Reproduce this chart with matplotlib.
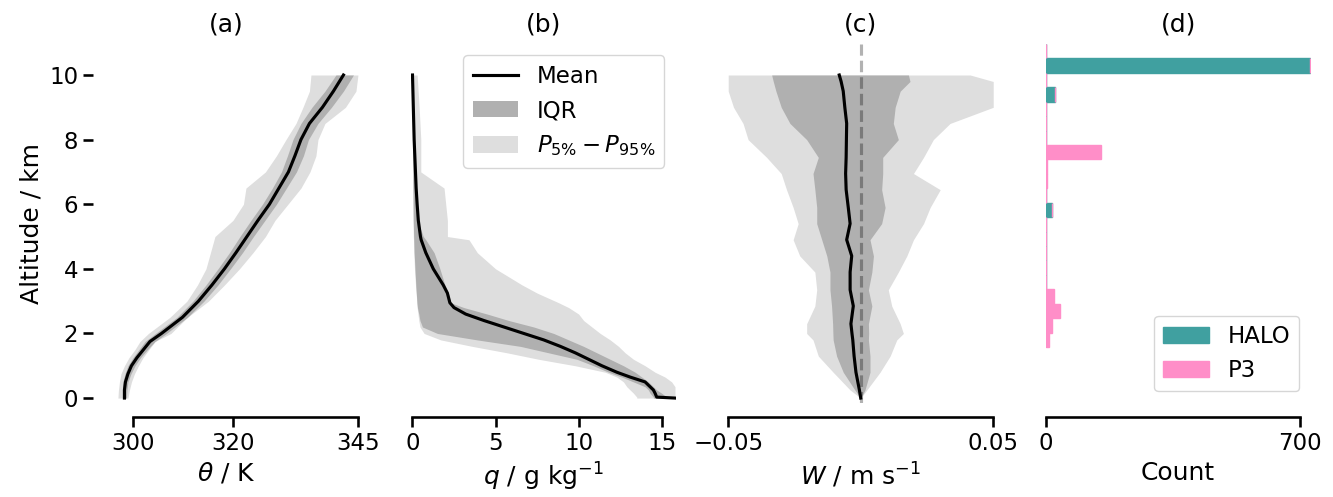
import numpy as np
import matplotlib
matplotlib.use("Agg")
import matplotlib.pyplot as plt

# ---- data ----
# (a) potential temperature / K
alt_a = [0, 0.25, 0.5, 0.75, 1.0, 1.25, 1.5, 1.75, 2.0, 2.5, 3.0, 3.5, 4.0, 4.5,
         5.0, 5.5, 6.0, 6.5, 7.0, 7.5, 8.0, 8.5, 9.0, 9.5, 10.0]
theta_mean = [298.2, 298.2, 298.4, 298.9, 299.6, 300.7, 302.0, 303.3, 305.6, 309.8, 313.0,
              315.7, 318.2, 320.5, 322.7, 324.9, 327.2, 329.1, 331.0, 332.3, 333.5, 335.2,
              337.8, 340.0, 342.0]
theta_p25 = [297.8, 297.8, 297.9, 298.3, 298.9, 299.9, 301.1, 302.3, 304.4, 308.7, 311.9,
             314.5, 316.9, 319.2, 321.3, 323.5, 325.8, 327.8, 329.6, 330.8, 331.9, 333.5,
             335.7, 338.3, 340.5]
theta_p75 = [298.6, 298.7, 298.9, 299.5, 300.3, 301.4, 302.8, 304.3, 306.6, 310.8, 314.1,
             316.9, 319.4, 321.8, 324.0, 326.3, 328.6, 330.6, 332.6, 334.0, 335.0, 336.9,
             339.6, 342.0, 344.0]
theta_p5 = [296.9, 297.0, 297.2, 297.5, 298.2, 299.1, 300.3, 301.3, 303.0, 307.3, 310.7,
            312.8, 314.5, 315.4, 316.3, 319.9, 322.0, 322.5, 326.4, 328.6, 330.5, 332.5,
            333.9, 335.2, 335.5]
theta_p95 = [298.9, 299.2, 299.6, 300.2, 301.0, 301.9, 303.1, 304.3, 307.5, 310.8, 315.0,
             318.2, 321.2, 323.9, 326.4, 328.3, 330.9, 333.5, 335.3, 336.5, 336.9, 338.3,
             342.4, 344.5, 344.9]

# (b) specific humidity / g kg-1
alt_b = [0, 0.03, 0.15, 0.25, 0.35, 0.5, 0.65, 0.8, 1.0, 1.2, 1.4, 1.6, 1.8, 2.0, 2.2,
         2.4, 2.6, 2.8, 2.95, 3.25, 3.5, 4.0, 4.5, 4.9, 5.0, 5.5, 6.0, 6.5, 7.0, 8.0,
         9.0, 10.0]
q_mean = [15.8, 14.7, 14.6, 14.5, 14.3, 14.0, 13.1, 12.3, 11.4, 10.6, 9.8, 8.9, 7.9, 6.7,
          5.5, 4.3, 3.2, 2.5, 2.25, 2.1, 1.85, 1.25, 0.8, 0.52, 0.48, 0.35, 0.28, 0.22,
          0.18, 0.1, 0.05, 0.0]
q_p25 = [14.5, 14.5, 14.3, 14.2, 14.0, 13.3, 12.6, 11.8, 10.9, 9.9, 8.2, 6.5, 3.9, 1.5,
         0.6, 0.45, 0.38, 0.3, 0.27, 0.23, 0.2, 0.15, 0.1, 0.08, 0.07, 0.05, 0.04, 0.03,
         0.02, 0.01, 0.0, 0.0]
q_p75 = [15.3, 15.3, 15.0, 14.7, 14.5, 14.2, 13.8, 13.4, 12.7, 11.9, 11.1, 10.3, 9.4, 8.5,
         7.3, 5.8, 4.5, 3.1, 2.3, 2.15, 1.95, 1.65, 1.3, 0.8, 0.65, 0.3, 0.2, 0.15, 0.1,
         0.08, 0.06, 0.05]
q_p5 = [13.5, 13.5, 13.3, 13.1, 12.9, 12.7, 12.3, 11.6, 9.8, 7.6, 5.7, 3.6, 1.7, 0.7,
        0.45, 0.38, 0.33, 0.28, 0.26, 0.22, 0.18, 0.12, 0.08, 0.06, 0.05, 0.03, 0.02,
        0.02, 0.01, 0.01, 0.0, 0.0]
q_p95 = [15.8, 15.8, 15.8, 15.8, 15.8, 15.6, 15.2, 14.6, 14.0, 13.3, 12.8, 12.4, 11.9,
         11.3, 10.8, 10.3, 10.0, 9.4, 8.8, 7.5, 6.6, 5.0, 3.9, 3.4, 2.1, 2.1, 2.0, 1.9,
         0.5, 0.5, 0.4, 0.28]

# (c) vertical velocity / m s-1
alt_c = [0, 0.25, 0.8, 1.3, 1.8, 2.0, 2.3, 2.85, 3.35, 3.9, 4.4, 4.9, 5.4, 5.9, 6.45, 6.95,
         7.45, 8.0, 8.5, 9.0, 9.5, 9.8, 10.0]
w_mean = [0.0, -0.0005, -0.0018, -0.0025, -0.003, -0.0033, -0.0037, -0.0028, -0.004,
          -0.004, -0.0034, -0.0053, -0.004, -0.0047, -0.0055, -0.0057, -0.0055, -0.0054,
          -0.0053, -0.006, -0.0066, -0.0074, -0.0081]
w_p25 = [0.0, -0.0022, -0.0066, -0.0091, -0.0104, -0.0105, -0.0106, -0.011, -0.0116,
         -0.0116, -0.0128, -0.0147, -0.0166, -0.0166, -0.0173, -0.018, -0.016, -0.0204,
         -0.0267, -0.030, -0.032, -0.033, -0.0336]
w_p75 = [0.0, 0.0016, 0.0035, 0.0035, 0.0029, 0.003, 0.0029, 0.0042, 0.0029, 0.0042,
         0.0048, 0.0035, 0.0079, 0.0092, 0.0079, 0.0083, 0.0083, 0.0142, 0.0123, 0.013,
         0.0149, 0.0186, 0.018]
w_p5 = [0.0, -0.004, -0.0104, -0.016, -0.018, -0.0204, -0.0204, -0.0173, -0.0166, -0.0173,
        -0.023, -0.0255, -0.0236, -0.0255, -0.028, -0.030, -0.0355, -0.0425, -0.0444,
        -0.048, -0.05, -0.05, -0.05]
w_p95 = [0.0, 0.0023, 0.0073, 0.0111, 0.0136, 0.0161, 0.0149, 0.0117, 0.0104, 0.0142,
         0.0174, 0.0199, 0.0237, 0.0262, 0.030, 0.0199, 0.0237, 0.0274, 0.0337, 0.05,
         0.05, 0.05, 0.0413]

# (d) number of profiles per altitude bin
bin_edges = np.linspace(1.579, 10.958, 22)
halo_counts = [0, 0, 0, 0, 0, 0, 0, 0, 0, 18, 2, 0, 0, 0, 0, 0, 0, 25, 0, 727, 0]
p3_counts = [10, 18, 40, 24, 0, 0, 0, 0, 0, 0, 0, 5, 3, 153, 0, 0, 0, 0, 0, 0, 0]

# ---- style (talk-sized) ----
plt.rcParams.update({
    "font.size": 16.5,
    "axes.labelsize": 18,
    "axes.titlesize": 18,
    "xtick.labelsize": 16.5,
    "ytick.labelsize": 16.5,
    "legend.fontsize": 16.5,
    "axes.linewidth": 1.875,
    "xtick.major.width": 1.875,
    "ytick.major.width": 1.875,
    "xtick.major.size": 7.5,
    "ytick.major.size": 7.5,
})

dark = "#b0b0b0"
light = "#dedede"
teal = "#40a0a0"
pink = "#ff8ec8"

fig = plt.figure(figsize=(13.33, 4.97), dpi=100)
left, width, gap = 0.0701, 0.1988, 0.0393
bottom, height = 0.1893, 0.7222
axes = [fig.add_axes([left + i * (width + gap), bottom, width, height]) for i in range(4)]
ylim = (-0.15, 10.96)


def profile(ax, alt, mean, p25, p75, p5, p95):
    ax.fill_betweenx(alt, p5, p95, color=light, lw=0, label=r"$P_{5\%} - P_{95\%}$")
    ax.fill_betweenx(alt, p25, p75, color=dark, lw=0, label="IQR")
    ax.plot(mean, alt, color="k", lw=2.25, label="Mean")


profile(axes[0], alt_a, theta_mean, theta_p25, theta_p75, theta_p5, theta_p95)
profile(axes[1], alt_b, q_mean, q_p25, q_p75, q_p5, q_p95)
profile(axes[2], alt_c, w_mean, w_p25, w_p75, w_p5, w_p95)
axes[2].axvline(0, color="k", alpha=0.3, ls="--", lw=2.25)

centers = 0.5 * (bin_edges[:-1] + bin_edges[1:])
bw = bin_edges[1] - bin_edges[0]
axes[3].barh(centers, halo_counts, height=bw, color=teal, edgecolor=teal, lw=1, label="HALO")
axes[3].barh(centers, p3_counts, height=bw, left=halo_counts, color=pink,
             edgecolor=pink, lw=1, label="P3")

xlims = [(292, 345), (-0.1, 15.85), (-0.05, 0.05), (0, 730)]
xticks = [[300, 320, 345], [0, 5, 10, 15], [-0.05, 0.05], [0, 700]]
xlabels = [r"$\theta$ / K", r"$q$ / g kg$^{-1}$", r"$W$ / m s$^{-1}$", "Count"]
titles = ["(a)", "(b)", "(c)", "(d)"]

for i, ax in enumerate(axes):
    ax.set_xlim(*xlims[i])
    ax.set_ylim(*ylim)
    ax.set_xticks(xticks[i])
    ax.set_xlabel(xlabels[i])
    ax.set_title(titles[i], pad=9)
    for s in ["top", "right", "left"]:
        ax.spines[s].set_visible(False)
    ax.spines["bottom"].set_position(("outward", 10))
    ax.spines["bottom"].set_bounds(xticks[i][0], xticks[i][-1])
    if i == 0:
        ax.set_yticks([0, 2, 4, 6, 8, 10])
        ax.set_ylabel("Altitude / km")
    else:
        ax.set_yticks([])

axes[2].set_xticklabels(["\u22120.05", "0.05"])

h, l = axes[1].get_legend_handles_labels()
order = [2, 1, 0]
axes[1].legend([h[k] for k in order], [l[k] for k in order], loc="upper right")
axes[3].legend(loc="lower right")

fig.savefig("out.png", dpi=100)
